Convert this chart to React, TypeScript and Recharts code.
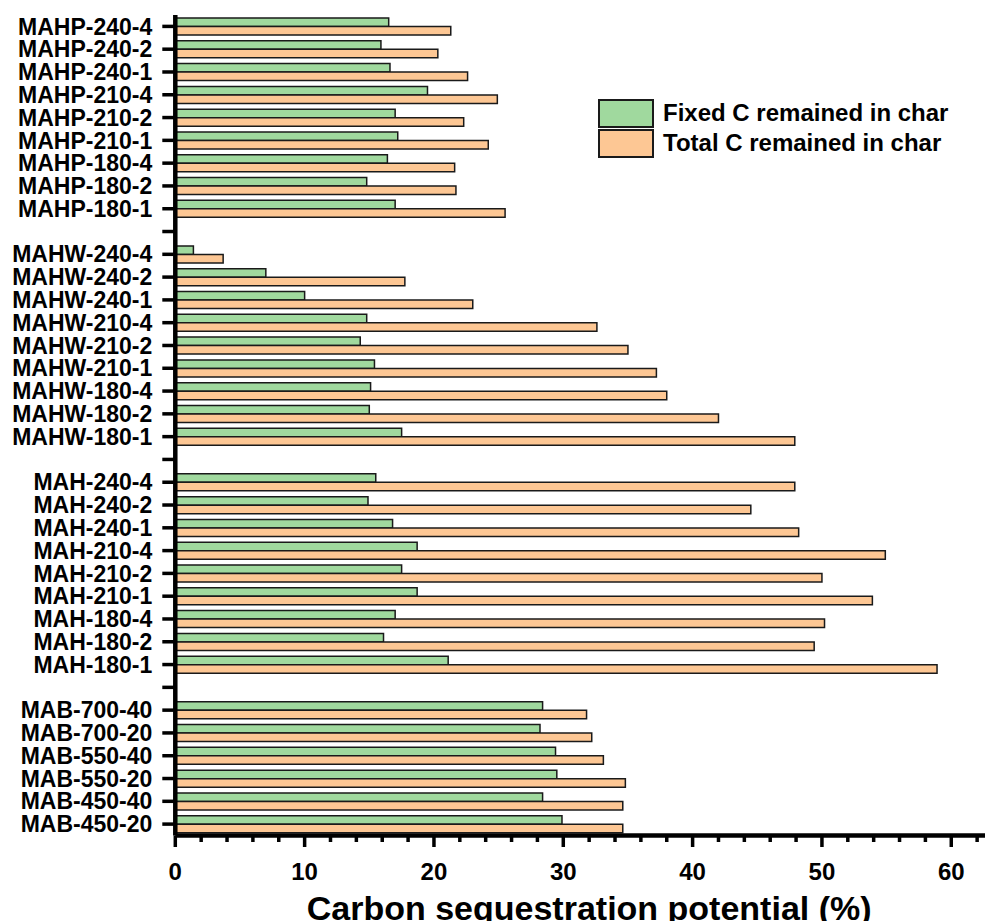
import React from "react"
import { BarChart, Bar, XAxis, YAxis, Legend } from "recharts"

// categories listed top to bottom, blank entries separate the groups
const categories = [
  "MAHP-240-4", "MAHP-240-2", "MAHP-240-1", "MAHP-210-4", "MAHP-210-2", "MAHP-210-1",
  "MAHP-180-4", "MAHP-180-2", "MAHP-180-1",
  " ",
  "MAHW-240-4", "MAHW-240-2", "MAHW-240-1", "MAHW-210-4", "MAHW-210-2", "MAHW-210-1",
  "MAHW-180-4", "MAHW-180-2", "MAHW-180-1",
  "  ",
  "MAH-240-4", "MAH-240-2", "MAH-240-1", "MAH-210-4", "MAH-210-2", "MAH-210-1",
  "MAH-180-4", "MAH-180-2", "MAH-180-1",
  "   ",
  "MAB-700-40", "MAB-700-20", "MAB-550-40", "MAB-550-20", "MAB-450-40", "MAB-450-20",
]

// Fixed C remained in char (%)
const fixedC = [
  16.5, 15.9, 16.6, 19.5, 17.0, 17.2, 16.4, 14.8, 17.0,
  null,
  1.4, 7.0, 10.0, 14.8, 14.3, 15.4, 15.1, 15.0, 17.5,
  null,
  15.5, 14.9, 16.8, 18.7, 17.5, 18.7, 17.0, 16.1, 21.1,
  null,
  28.4, 28.2, 29.4, 29.5, 28.4, 29.9,
]

// Total C remained in char (%)
const totalC = [
  21.3, 20.3, 22.6, 24.9, 22.3, 24.2, 21.6, 21.7, 25.5,
  null,
  3.7, 17.75, 23.0, 32.6, 35.0, 37.2, 38.0, 42.0, 47.9,
  null,
  47.9, 44.5, 48.2, 54.9, 50.0, 53.9, 50.2, 49.4, 58.9,
  null,
  31.8, 32.2, 33.1, 34.8, 34.6, 34.6,
]

const xTicks = [
  0, 2, 4, 6, 8, 10, 12, 14, 16, 18, 20, 22, 24, 26, 28, 30, 32,
  34, 36, 38, 40, 42, 44, 46, 48, 50, 52, 54, 56, 58, 60, 62, 64,
]

const data = categories.map((name, i) => ({
  name,
  fixed: fixedC[i],
  total: totalC[i],
}))

const FONT = '"Liberation Sans", Arial, sans-serif'
const GREEN = "#a0d99e"
const ORANGE = "#fdc794"

// major ticks every 10 with a label, minor ticks in between
const XTick = (props: any) => {
  const { x, y, payload } = props
  const major = payload.value % 10 === 0
  return (
    <g>
      <line
        x1={x}
        x2={x}
        y1={y}
        y2={y + (major ? 11.5 : 6.5)}
        stroke="#000"
        strokeWidth={3.5}
      />
      {major && (
        <text
          x={x}
          y={y + 44.5}
          textAnchor="middle"
          fontFamily={FONT}
          fontWeight="bold"
          fontSize={24}
          fill="#000"
        >
          {payload.value}
        </text>
      )}
    </g>
  )
}

const LegendBox = (props: any) => {
  const { payload } = props
  return (
    <div style={{ fontFamily: FONT, width: 380 }}>
      {payload.map((p: any) => (
        <div
          key={p.value}
          style={{ display: "flex", alignItems: "center", height: 30 }}
        >
          <div
            style={{
              width: 52,
              height: 25,
              background: p.color,
              border: "2px solid #1a1a1a",
            }}
          />
          <span
            style={{
              marginLeft: 9,
              fontSize: 24,
              fontWeight: "bold",
              color: "#000",
              whiteSpace: "nowrap",
            }}
          >
            {p.value}
          </span>
        </div>
      ))}
    </div>
  )
}

export default function App() {
  return (
    <div style={{ width: 985, height: 913, overflow: "hidden" }}>
      <BarChart
        width={1000}
        height={913}
        data={data}
        layout="vertical"
        barSize={8.5}
        barGap={0}
        margin={{ top: 7, right: 5, bottom: 0.5, left: 0 }}
      >
        <XAxis
          type="number"
          dataKey="total"
          domain={[0, 64]}
          ticks={xTicks}
          interval={0}
          tick={<XTick />}
          tickLine={false}
          tickSize={0}
          tickMargin={0}
          height={85}
          axisLine={{ stroke: "#000", strokeWidth: 4.5 }}
          allowDataOverflow
          label={{
            value: "Carbon sequestration potential (%)",
            position: "insideTop",
            offset: 60,
            fontFamily: FONT,
            fontWeight: "bold",
            fontSize: 34,
            fill: "#000",
          }}
        />
        <XAxis
          xAxisId="top"
          type="number"
          orientation="top"
          domain={[0, 64]}
          height={0}
          tick={false}
          tickLine={false}
          axisLine={{ stroke: "#000", strokeWidth: 4.5 }}
        />
        <YAxis
          type="category"
          dataKey="name"
          width={167.3}
          interval={0}
          tickSize={13}
          tickMargin={10}
          axisLine={{ stroke: "#000", strokeWidth: 4.5 }}
          tickLine={{ stroke: "#000", strokeWidth: 3.5 }}
          tick={{
            fontFamily: FONT,
            fontWeight: "bold",
            fontSize: 23,
            fill: "#000",
          }}
        />
        <Legend
          layout="vertical"
          verticalAlign="top"
          align="left"
          wrapperStyle={{ left: 590, top: 90, width: 0, height: 0, overflow: "visible" }}
          content={<LegendBox />}
        />
        <Bar
          dataKey="fixed"
          name="Fixed C remained in char"
          fill={GREEN}
          stroke="#1a1a1a"
          strokeWidth={1.5}
          isAnimationActive={false}
        />
        <Bar
          dataKey="total"
          name="Total C remained in char"
          fill={ORANGE}
          stroke="#1a1a1a"
          strokeWidth={1.5}
          isAnimationActive={false}
        />
      </BarChart>
    </div>
  )
}
